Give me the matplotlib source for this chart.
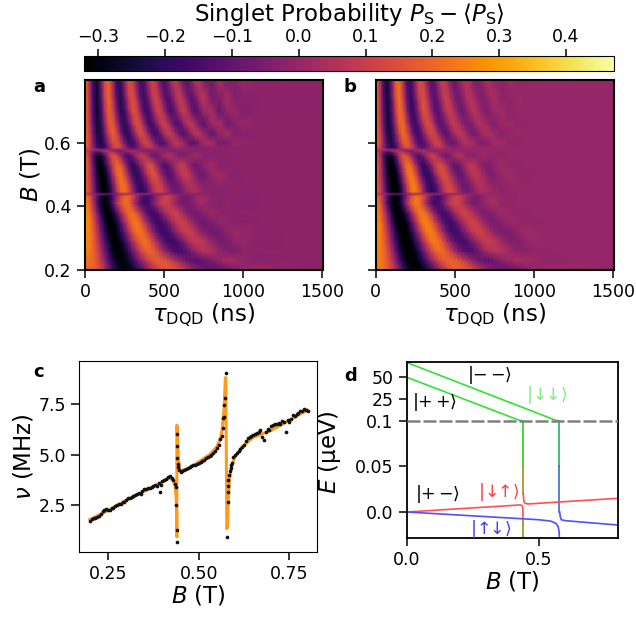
"""Singlet probability maps (a, b), fitted frequency (c) and level diagram (d)."""
import numpy as np
import matplotlib
matplotlib.use("Agg")
import matplotlib.pyplot as plt

plt.rcParams["font.family"] = ["DejaVu Sans"]
plt.rcParams["mathtext.fontset"] = "dejavusans"
plt.rcParams["font.size"] = 12.5

W, H = 636, 618

# --- maps: values in hundredths, one row per field value
TAU = [0, 25, 50, 75, 100, 125, 150, 175, 200, 225, 250, 275, 300, 325, 350, 375,
       400, 425, 450, 475, 500, 525, 550, 575, 600, 625, 650, 675, 700, 725, 750,
       800, 850, 900, 950, 1000, 1100, 1250, 1500]
FIELD = [0.20, 0.23, 0.26, 0.29, 0.32, 0.35, 0.38, 0.41, 0.434, 0.44, 0.446, 0.47,
         0.50, 0.53, 0.56, 0.574, 0.58, 0.585, 0.60, 0.63, 0.66, 0.70, 0.74, 0.80]

MAP_A = [
    [20,20,19,17,12,5,-5,-15,-23,-28,-30,-30,-28,-23,-17,-10,-3,3,9,13,16,18,18,17,15,11,7,3,-1,-5,-8,-12,-12,-8,-4,-1,2,-1,-2],
    [22,22,20,16,8,-2,-13,-23,-29,-31,-30,-26,-19,-11,-3,4,11,15,18,18,17,14,9,4,-1,-6,-10,-12,-13,-12,-10,-5,0,3,2,-1,-3,-2,-2],
    [25,24,20,14,4,-8,-19,-28,-32,-32,-27,-19,-9,1,10,17,20,19,15,8,0,-6,-12,-15,-16,-14,-10,-5,0,4,6,5,-1,-5,-5,-2,-2,-2,-2],
    [27,25,20,11,-1,-13,-24,-31,-32,-28,-20,-9,3,13,20,23,20,13,4,-5,-12,-17,-18,-16,-11,-5,2,7,9,9,7,-1,-6,-5,-1,0,-3,-2,-2],
    [28,26,19,8,-6,-19,-29,-33,-30,-21,-10,3,15,22,23,19,10,0,-9,-16,-18,-16,-10,-3,4,9,11,10,6,0,-4,-8,-7,-2,1,0,-2,-2,-2],
    [29,26,17,4,-11,-25,-33,-33,-26,-13,1,14,22,24,19,9,-2,-11,-17,-18,-14,-7,1,7,11,11,7,1,-4,-7,-8,-5,-1,-1,-3,-3,-2,-2,-2],
    [28,24,13,-3,-19,-31,-33,-27,-15,0,13,21,22,16,6,-6,-14,-18,-15,-8,1,7,11,11,7,1,-4,-7,-7,-6,-3,1,-1,-3,-2,-2,-2,-2,-2],
    [27,21,6,-12,-27,-31,-27,-13,4,16,22,20,10,-3,-13,-17,-16,-8,1,8,11,10,5,-1,-5,-7,-7,-4,0,2,2,-3,-3,-1,-3,-3,-2,-2,-2],
    [24,18,5,-11,-24,-29,-26,-15,0,12,19,20,13,2,-9,-15,-16,-11,-3,5,10,11,7,1,-4,-7,-6,-3,0,2,2,-2,-3,-2,-2,-2,-2,-2,-2],
    [8,4,0,-3,-6,-8,-9,-7,-4,-1,0,2,3,3,1,0,-1,-2,-3,-3,-3,-3,-3,-3,-3,-3,-3,-3,-3,-3,-3,-3,-3,-3,-3,-3,-2,-2,-2],
    [20,14,0,-17,-29,-33,-27,-13,5,19,23,16,2,-12,-19,-18,-10,1,9,12,9,2,-5,-8,-8,-4,1,4,4,2,-1,-3,-3,-2,-2,-2,-2,-2,-2],
    [20,13,-2,-19,-31,-33,-25,-8,10,22,22,12,-3,-16,-20,-15,-5,6,12,11,4,-4,-9,-9,-5,1,5,5,2,-1,-3,-3,-1,-2,-2,-2,-2,-2,-2],
    [21,12,-5,-23,-33,-32,-18,2,18,23,15,0,-14,-21,-16,-4,8,16,14,3,-6,-13,-12,-3,4,10,10,3,-3,-8,-8,0,2,-1,-3,-2,-2,-2,-2],
    [22,12,-8,-26,-33,-25,-8,10,21,18,5,-11,-21,-16,-5,6,16,14,3,-7,-15,-12,-3,4,10,9,1,-4,-9,-5,-1,2,-3,-3,-2,-2,-2,-2,-2],
    [20,9,-12,-26,-27,-14,5,17,14,1,-12,-16,-9,3,10,9,0,-7,-9,-4,3,6,4,-1,-5,-5,-2,1,2,0,-3,-3,-2,-2,-2,-2,-2,-2,-2],
    [12,6,-6,-10,-6,3,6,2,-4,-5,-2,1,2,0,-2,-3,-3,-3,-3,-3,-3,-3,-3,-3,-3,-3,-3,-3,-3,-3,-3,-3,-3,-2,-2,-2,-2,-2,-2],
    [10,8,5,3,1,0,-1,-1,-2,-2,-2,-2,-2,-2,-2,-2,-2,-2,-2,-2,-2,-2,-2,-2,-2,-2,-2,-2,-2,-2,-2,-2,-2,-2,-2,-2,-2,-2,-2],
    [20,12,-2,-15,-20,-17,-5,8,14,11,1,-8,-12,-9,-2,4,7,5,0,-4,-5,-4,-1,1,1,0,-1,-2,-3,-3,-3,-2,-2,-2,-2,-2,-2,-2,-2],
    [22,14,-3,-18,-24,-15,0,13,16,8,-6,-16,-18,-10,2,11,12,4,-7,-14,-13,-6,3,8,7,1,-7,-12,-10,-4,3,4,-6,-6,1,-1,-2,-2,-2],
    [22,12,-7,-23,-24,-9,10,19,13,-4,-18,-20,-9,6,15,11,-2,-14,-17,-9,3,10,9,-1,-10,-14,-8,1,8,7,0,-11,-1,4,-4,-3,-2,-2,-2],
    [22,10,-10,-25,-21,-2,16,18,5,-13,-21,-13,3,15,12,-2,-15,-16,-7,6,12,6,-6,-13,-12,-2,7,9,2,-8,-12,1,4,-7,-3,0,-2,-2,-2],
    [22,9,-13,-26,-17,5,19,13,-6,-21,-17,-1,14,14,-1,-15,-17,-5,9,11,2,-11,-15,-7,5,10,4,-7,-13,-8,1,4,-9,-1,1,-4,-2,-2,-2],
    [22,9,-14,-26,-14,10,20,8,-12,-22,-11,8,16,7,-10,-18,-10,6,13,5,-9,-15,-8,4,10,4,-7,-13,-7,3,8,-6,-5,4,-4,-3,-2,-2,-2],
    [22,6,-17,-26,-9,15,19,2,-19,-19,-1,15,12,-6,-18,-12,4,13,5,-10,-16,-6,7,10,0,-12,-12,-2,8,6,-4,-8,5,-5,-4,1,-2,-2,-2],
]

MAP_B = [
    [24,24,22,18,13,6,-4,-15,-24,-30,-32,-32,-30,-25,-19,-12,-4,4,10,15,18,20,20,19,17,13,9,5,1,-3,-6,-10,-11,-8,-4,-1,2,1,0],
    [25,24,22,17,9,-2,-14,-25,-31,-33,-32,-28,-21,-12,-3,5,12,17,20,20,19,16,11,6,1,-4,-8,-10,-11,-10,-8,-3,2,4,3,1,-2,0,0],
    [26,25,21,15,4,-9,-21,-30,-34,-34,-29,-21,-10,1,11,18,22,21,17,10,2,-5,-10,-13,-14,-12,-8,-3,2,5,7,6,1,-3,-3,-1,0,0,0],
    [27,25,20,11,-2,-15,-26,-33,-34,-30,-21,-10,3,14,22,25,22,15,5,-4,-11,-15,-16,-14,-9,-3,3,8,10,10,8,1,-4,-4,-1,1,0,0,0],
    [28,26,19,8,-7,-21,-31,-35,-32,-23,-11,3,16,24,25,21,12,2,-8,-15,-17,-15,-9,-2,5,10,12,11,7,2,-2,-6,-5,-1,2,1,0,0,0],
    [28,25,16,3,-13,-27,-35,-35,-28,-14,1,15,24,26,21,11,0,-10,-16,-17,-13,-6,2,8,12,12,8,2,-2,-5,-6,-3,1,1,-1,-1,0,0,0],
    [27,23,12,-4,-21,-33,-35,-29,-16,0,14,23,24,18,8,-4,-13,-17,-15,-8,2,8,12,12,8,3,-2,-5,-5,-4,-2,2,1,-1,-1,0,0,0,0],
    [26,20,5,-14,-29,-34,-29,-14,4,18,24,22,12,-2,-12,-17,-15,-8,2,9,12,11,6,0,-4,-6,-5,-2,1,3,3,-1,-1,0,0,0,0,0,0],
    [23,17,4,-13,-26,-31,-28,-16,0,14,21,22,15,4,-8,-14,-15,-10,-2,6,11,11,7,2,-3,-5,-5,-2,1,2,2,-1,-1,0,0,0,0,0,0],
    [10,5,0,-3,-6,-8,-9,-7,-3,0,2,3,4,4,2,0,-1,-2,-2,-1,-1,-1,-1,0,0,0,0,0,0,0,0,0,0,0,0,0,0,0,0],
    [20,14,-1,-18,-31,-35,-29,-14,6,21,25,18,3,-12,-20,-18,-9,3,11,14,10,3,-4,-7,-6,-3,2,4,4,2,0,-2,-1,0,0,0,0,0,0],
    [20,13,-3,-21,-33,-35,-27,-8,11,24,24,13,-3,-16,-20,-15,-4,7,13,12,5,-3,-8,-8,-4,2,5,5,2,0,-2,-2,0,0,0,0,0,0,0],
    [20,11,-7,-25,-35,-34,-19,2,20,25,17,1,-14,-21,-16,-3,9,15,13,4,-5,-10,-9,-2,5,8,7,3,-2,-5,-4,1,2,0,-1,0,0,0,0],
    [21,11,-9,-28,-35,-27,-8,11,23,20,6,-10,-21,-16,-4,8,15,13,4,-6,-11,-9,-2,5,8,7,1,-3,-5,-4,0,2,-1,-1,0,0,0,0,0],
    [19,9,-13,-28,-29,-15,6,18,15,2,-11,-15,-8,4,11,10,1,-6,-8,-3,3,6,4,0,-3,-3,-1,1,2,0,-1,-1,0,0,0,0,0,0,0],
    [12,6,-6,-11,-6,3,7,3,-3,-5,-2,1,3,1,-1,-1,-1,-1,-1,-1,-1,0,0,0,0,0,0,0,0,0,0,0,0,0,0,0,0,0,0],
    [8,7,5,3,2,1,0,0,0,0,0,0,0,0,0,0,0,0,0,0,0,0,0,0,0,0,0,0,0,0,0,0,0,0,0,0,0,0,0],
    [19,12,-2,-15,-21,-17,-4,9,15,12,2,-7,-11,-8,-1,5,7,5,1,-2,-3,-2,0,1,1,0,0,0,0,0,0,0,0,0,0,0,0,0,0],
    [22,16,-1,-16,-23,-14,2,16,19,10,-4,-14,-15,-7,3,11,12,5,-4,-9,-8,-3,4,6,5,2,-3,-5,-4,-1,2,2,-1,-1,0,0,0,0,0],
    [23,14,-5,-22,-23,-7,12,22,15,-2,-15,-17,-6,7,14,11,0,-10,-12,-5,4,8,7,1,-5,-7,-3,2,5,4,1,-3,0,1,0,0,0,0,0],
    [23,12,-8,-24,-20,0,19,21,7,-11,-18,-10,5,14,12,0,-11,-11,-4,6,10,5,-2,-6,-6,0,5,5,2,-3,-4,1,1,-1,0,0,0,0,0],
    [23,11,-11,-25,-16,7,22,16,-4,-18,-14,1,15,13,1,-11,-12,-2,8,10,3,-6,-8,-3,4,7,3,-3,-5,-3,1,2,-2,0,0,0,0,0,0],
    [23,10,-13,-25,-13,13,23,10,-10,-19,-9,9,15,8,-7,-13,-6,6,11,5,-5,-8,-4,4,7,3,-3,-5,-3,2,4,-2,-1,1,0,0,0,0,0],
    [23,8,-16,-25,-7,18,22,4,-16,-16,1,15,12,-3,-13,-8,5,11,5,-6,-10,-2,5,7,1,-6,-5,0,5,4,-1,-2,2,-1,0,0,0,0,0],
]

# --- panel c
FIT_B = [0.20, 0.25, 0.30, 0.35, 0.40, 0.42, 0.43, 0.435, 0.438, 0.4393, 0.4396,
         0.4398, 0.4405, 0.442, 0.444, 0.447, 0.45, 0.47, 0.50, 0.53, 0.55, 0.56,
         0.565, 0.57, 0.5735, 0.5745, 0.5775, 0.5795, 0.582, 0.585, 0.59, 0.60,
         0.62, 0.65, 0.70, 0.75, 0.80]
FIT_NU = [1.8, 2.25, 2.75, 3.2, 3.65, 3.85, 3.72, 3.45, 2.8, 1.9, 0.95,
          6.45, 6.3, 5.6, 4.8, 4.35, 4.2, 4.3, 4.65, 5.0, 5.4, 5.8,
          6.3, 7.3, 8.8, 8.8, 1.35, 1.5, 3.0, 3.8, 4.4, 4.9,
          5.4, 5.85, 6.2, 6.7, 7.2]
DOT_B = [.200, .205, .21, .215, .22, .225, .23, .235, .24, .245, .25, .255, .26, .265, .27, .275, .28, .285, .29, .295,
         .30, .305, .31, .315, .32, .325, .33, .335, .34, .345, .35, .355, .36, .365, .37, .375, .38, .385, .39, .393,
         .395, .40, .405, .41, .415, .42, .425, .43, .435, .437, .438, .439, .4395, .44, .4405, .441, .4415, .443, .446, .45,
         .455, .46, .465, .47, .475, .48, .485, .49, .495, .50, .505, .51, .515, .52, .525, .53, .535, .54, .545, .55,
         .555, .56, .563, .566, .568, .57, .571, .572, .574, .579, .58, .5805, .581, .582, .584, .586, .588, .59, .592, .595,
         .60, .605, .61, .615, .62, .625, .63, .635, .64, .645, .65, .655, .66, .665, .67, .675, .68, .685, .69, .695,
         .70, .705, .71, .715, .72, .725, .73, .735, .74, .745, .75, .755, .76, .765, .77, .775, .78, .785, .79, .795, .80]
DOT_NU = [1.75, 1.85, 1.9, 1.9, 1.95, 2.0, 2.05, 2.2, 2.25, 2.3, 2.25, 2.25, 2.35, 2.35, 2.45, 2.5, 2.55, 2.55, 2.65, 2.65,
          2.75, 2.85, 2.85, 2.9, 2.95, 3.0, 3.05, 3.1, 3.05, 3.2, 3.3, 3.3, 3.35, 3.35, 3.4, 3.45, 3.5, 3.45, 3.6, 3.15,
          3.5, 3.7, 3.75, 3.8, 3.9, 3.95, 3.85, 3.75, 3.55, 3.4, 2.5, 1.3, 0.7, 6.0, 5.45, 4.85, 4.55, 4.4, 4.25, 4.15,
          4.2, 4.25, 4.3, 4.35, 4.4, 4.45, 4.5, 4.5, 4.55, 4.6, 4.65, 4.7, 4.75, 4.85, 4.9, 4.95, 5.0, 5.1, 5.2, 5.35,
          5.5, 5.75, 5.9, 6.3, 6.8, 6.85, 7.45, 7.8, 9.05, 0.95, 2.65, 3.15, 3.45, 3.75, 4.0, 4.2, 4.35, 4.5, 4.6, 4.9,
          5.0, 5.1, 5.2, 5.3, 5.4, 5.5, 5.65, 5.8, 5.85, 5.9, 5.95, 6.0, 6.05, 6.1, 6.2, 5.85, 5.7, 6.1, 6.25, 6.2,
          6.4, 6.45, 6.5, 6.5, 6.55, 6.5, 6.65, 6.6, 6.1, 6.7, 6.6, 6.75, 6.95, 6.9, 7.0, 7.05, 7.15, 7.15, 7.25, 7.2, 7.15]

# --- panel d levels
PP_B, PP_E = [0.0, 0.427, 0.44], [50.0, 0.5, 0.1]
MM_B, MM_E = [0.0, 0.565, 0.578], [67.0, 0.5, 0.1]
UP_LEFT_B, UP_LEFT_E = [0.0, 0.428, 0.434, 0.438, 0.4395, 0.44], [0.0, 0.0077, 0.0074, 0.0062, 0.002, -0.012]
UP_RIGHT_B, UP_RIGHT_E = [0.441, 0.443, 0.447, 0.46, 0.8], [0.02, 0.012, 0.0095, 0.0088, 0.015]
LOW_LEFT_B, LOW_LEFT_E = [0.0, 0.50, 0.545, 0.565, 0.573, 0.577, 0.578], [0.0, -0.0085, -0.01, -0.0125, -0.016, -0.022, -0.03]
LOW_RIGHT_B, LOW_RIGHT_E = [0.579, 0.581, 0.585, 0.6, 0.8], [0.0, -0.005, -0.0085, -0.0095, -0.0143]
STEM1_E = [0.1, 0.05, 0.02]
STEM2_E = [0.1, 0.05, 0.0]
STEM1_LOW_E = [-0.012, -0.0285]


def pix_axes(fig, l, t, r, b):
    return fig.add_axes([l / W, 1 - b / H, (r - l) / W, (b - t) / H])


def d_forward(y):
    y = np.asarray(y, dtype=float)
    return np.where(y <= 0.1, y, 0.1 + (y - 0.1) * 0.000952)


def d_inverse(y):
    y = np.asarray(y, dtype=float)
    return np.where(y <= 0.1, y, 0.1 + (y - 0.1) / 0.000952)


fig = plt.figure(figsize=(W / 100, H / 100), dpi=100)

cax = pix_axes(fig, 84, 56, 614, 71)
ax_a = pix_axes(fig, 85, 80, 323, 270)
ax_b = pix_axes(fig, 375.5, 80, 614, 270)
ax_c = pix_axes(fig, 79, 361, 317, 552)
ax_d = pix_axes(fig, 407, 362, 618, 538)

# maps
tt, bb = np.meshgrid(TAU, FIELD)
for ax, table in [(ax_a, MAP_A), (ax_b, MAP_B)]:
    mesh = ax.pcolormesh(tt, bb, np.array(table) / 100.0, cmap="inferno",
                         vmin=-0.3217, vmax=0.472, shading="gouraud")
    ax.set_xlim(0, 1505); ax.set_ylim(0.2, 0.798)
    ax.set_xticks([0, 500, 1000, 1500]); ax.set_yticks([0.2, 0.4, 0.6])
    ax.set_xlabel(r"$\tau_{\mathrm{DQD}}$ (ns)", fontsize=16.5, labelpad=0)
    ax.tick_params(length=6, width=1.1)
    for s in ax.spines.values():
        s.set_linewidth(1.5)
ax_a.set_ylabel(r"$B$ (T)", fontsize=16.5, labelpad=1)
ax_b.set_yticklabels([])

cb = fig.colorbar(mesh, cax=cax, orientation="horizontal")
cb.set_ticks([-0.3, -0.2, -0.1, 0.0, 0.1, 0.2, 0.3, 0.4])
cax.xaxis.set_ticks_position("top")
cax.xaxis.set_label_position("top")
cax.tick_params(length=5, width=1.1, pad=2)
cb.set_label(r"Singlet Probability $P_{\mathrm{S}}-\langle P_{\mathrm{S}}\rangle$", fontsize=16.5, labelpad=5)

# panel c
ax_c.plot(FIT_B, FIT_NU, color="#ff9a1a", lw=2.2, zorder=2)
ax_c.scatter(DOT_B, DOT_NU, s=7, color="#111111", lw=0, zorder=3)
ax_c.set_xlim(0.17, 0.826); ax_c.set_ylim(0.2, 9.62)
ax_c.set_xticks([0.25, 0.50, 0.75]); ax_c.set_yticks([2.5, 5.0, 7.5])
ax_c.set_xlabel(r"$B$ (T)", fontsize=16.5, labelpad=0)
ax_c.set_ylabel(r"$\nu$ (MHz)", fontsize=16.5, labelpad=2)
ax_c.tick_params(length=6, width=1.1)

# panel d
ax_d.set_yscale("function", functions=(d_forward, d_inverse))
ax_d.set_xlim(0, 0.8); ax_d.set_ylim(-0.0285, 67.7)
ax_d.plot(PP_B, PP_E, color="#33e033", lw=1.2)
ax_d.plot(MM_B, MM_E, color="#33e033", lw=1.2)
ax_d.plot([0.44, 0.44], STEM1_E[:2], color="#2fc81a", lw=1.2)
ax_d.plot([0.44, 0.44], STEM1_E[1:], color="#8a9a1a", lw=1.2)
ax_d.plot([0.578, 0.578], STEM2_E[:2], color="#2faa6a", lw=1.2)
ax_d.plot([0.578, 0.578], STEM2_E[1:], color="#3a6ac8", lw=1.2)
ax_d.plot(UP_LEFT_B, UP_LEFT_E, color="#ff5050", lw=1.2)
ax_d.plot(UP_RIGHT_B, UP_RIGHT_E, color="#ff5050", lw=1.2)
ax_d.plot(LOW_LEFT_B, LOW_LEFT_E, color="#5050ff", lw=1.2)
ax_d.plot(LOW_RIGHT_B, LOW_RIGHT_E, color="#5050ff", lw=1.2)
ax_d.plot([0.44, 0.44], STEM1_LOW_E, color="#8a9a1a", lw=1.2)
ax_d.axhline(0.1, color="#808080", lw=1.8, dashes=(5.2, 1.2), zorder=4)
ax_d.set_xticks([0.0, 0.5])
ax_d.set_yticks([0.0, 0.05, 0.1, 25, 50])
ax_d.set_yticklabels(["0.0", "0.05", "0.1", "25", "50"])
ax_d.minorticks_off()
ax_d.set_xlabel(r"$B$ (T)", fontsize=16.5, labelpad=0)
ax_d.set_ylabel(r"$E$ (µeV)", fontsize=16.5)
ax_d.yaxis.set_label_coords(-0.303, 0.489)
ax_d.tick_params(length=6, width=1.1)
for s in ax_d.spines.values():
    s.set_linewidth(1.3)

for txt, x, y, col in [(r"$|{-}\,{-}\rangle$", 0.285, 0.926, "black"),
                       (r"$|{+}\,{+}\rangle$", 0.022, 0.774, "black"),
                       (r"$|\!\downarrow\!\!\!\downarrow\!\rangle$", 0.5626, 0.8125, "#80ee80"),
                       (r"$|{+}\,{-}\rangle$", 0.038, 0.25, "black"),
                       (r"$|\!\downarrow\!\!\!\uparrow\!\rangle$", 0.335, 0.26, "#ff4040"),
                       (r"$|\!\uparrow\!\!\!\downarrow\!\rangle$", 0.30, 0.05, "#4040ff")]:
    ax_d.text(x, y, txt, color=col, fontsize=12.5, transform=ax_d.transAxes, va="center", ha="left")

# panel letters
for letter, x, y in [("a", 39, 87), ("b", 350, 87), ("c", 39, 372), ("d", 351, 376)]:
    fig.text(x / W, 1 - y / H, letter, fontsize=13, fontweight="bold", ha="center", va="center")

fig.savefig("out.png", dpi=100)
